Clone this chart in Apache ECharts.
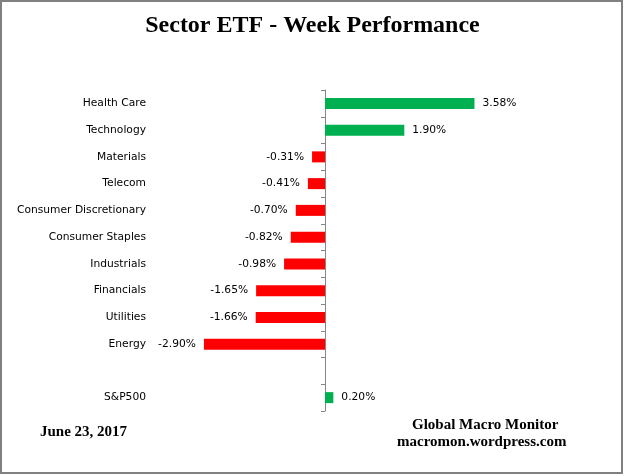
<!DOCTYPE html>
<html>
<head>
<meta charset="utf-8">
<script src="https://cdn.jsdelivr.net/npm/echarts@6/dist/echarts.min.js"></script>
<style>
html,body{margin:0;padding:0;background:#fff;}
#chart{width:625px;height:476px;}
</style>
</head>
<body>
<div id="chart"></div>
<script>
const categories = ['Health Care','Technology','Materials','Telecom','Consumer Discretionary','Consumer Staples','Industrials','Financials','Utilities','Energy','','S&P500'];
const values = [3.58, 1.90, -0.31, -0.41, -0.70, -0.82, -0.98, -1.65, -1.66, -2.90, null, 0.20];

const chart = echarts.init(document.getElementById('chart'), null, {renderer:'canvas'});
const labelFont = {fontFamily:'DejaVu Sans', fontSize:10.7, color:'#000'};
const data = values.map(v => v === null ? '-' : {
  value: v,
  itemStyle: {color: v >= 0 ? '#00B050' : '#FF0000'},
  label: {position: v >= 0 ? 'right' : 'left'}
});
chart.setOption({
  animation:false,
  backgroundColor:'#fff',
  title:{
    text:'Sector ETF - Week Performance',
    left:'center', top:9,
    textStyle:{fontFamily:'Liberation Serif', fontWeight:'bold', fontSize:24, color:'#000'}
  },
  grid:{left:158, right:133, top:90, bottom:65},
  xAxis:{type:'value', min:-4, max:4, show:false},
  yAxis:[{
    type:'category', data:categories, inverse:true,
    axisLine:{show:false, onZero:false}, axisTick:{show:false},
    axisLabel:Object.assign({margin:12}, labelFont)
  },{
    type:'category', data:categories, inverse:true, position:'left',
    axisLine:{show:true, onZero:true, onZeroAxisIndex:0, lineStyle:{color:'#868686', width:1}},
    axisTick:{show:true, length:4, lineStyle:{color:'#868686'}},
    axisLabel:{show:false}
  }],
  series:[{
    type:'bar', data:data, barWidth:11, yAxisIndex:0,
    label:Object.assign({show:true, distance:8, formatter:p => p.value.toFixed(2)+'%'}, labelFont)
  }],
  graphic:[
    {type:'rect', shape:{x:1, y:1, width:621, height:472}, style:{fill:null, stroke:'#808080', lineWidth:2}, silent:true},
    {type:'text', left:40, top:425, style:{text:'June 23, 2017', font:'bold 15px "Liberation Serif"', fill:'#000'}},
    {type:'text', left:412, top:418, style:{text:'Global Macro Monitor', font:'bold 15px "Liberation Serif"', fill:'#000'}},
    {type:'text', left:397, top:435, style:{text:'macromon.wordpress.com', font:'bold 15px "Liberation Serif"', fill:'#000'}}
  ]
});
</script>
</body>
</html>
